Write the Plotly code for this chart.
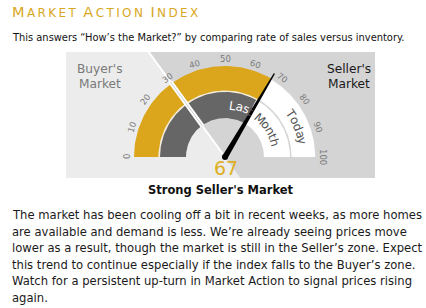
import numpy as np
import plotly.graph_objects as go

# ---------------- data ----------------
title_words = ["MARKET", "ACTION", "INDEX"]
subtitle = "This answers \u201cHow\u2019s the Market?\u201d by comparing rate of sales versus inventory."
gauge_ticks = [0, 10, 20, 30, 40, 50, 60, 70, 80, 90, 100]
today_value = 67
last_month_value = 66
split_value = 30
zone_buyer = ["Buyer's", "Market"]
zone_seller = ["Seller's", "Market"]
band_last_month = "Last Month"
band_today = "Today"
verdict = "Strong Seller's Market"
paragraph_lines = [
    "The market has been cooling off a bit in recent weeks, as more homes",
    "are available and demand is less. We\u2019re already seeing prices move",
    "lower as a result, though the market is still in the Seller\u2019s zone. Expect",
    "this trend to continue especially if the index falls to the Buyer\u2019s zone.",
    "Watch for a persistent up-turn in Market Action to signal prices rising",
    "again.",
]

# ---------------- styling / geometry ----------------
W, H = 426, 308
CX, CY = 225.0, 157.0
PX0, PX1, PY0, PY1 = 66, 375, 52, 178
R_OUT, R_GOLD_IN, R_GRAY_OUT, R_IN = 91, 66.6, 65.0, 39
R_TICK, R_NEEDLE = 98, 97
GOLD = "#dca61c"
DARKGRAY = "#666666"
LIGHT_BG = "#ececec"
DARK_BG = "#d4d4d4"
FONT = "DejaVu Sans"

def ang(v):
    return np.radians(180 - 1.8 * np.asarray(v, dtype=float))

def pt(v, r):
    a = ang(v)
    return CX + r * np.cos(a), CY - r * np.sin(a)

def arc_poly(v0, v1, r0, r1, n=80):
    vs = np.linspace(v0, v1, n)
    xo, yo = pt(vs, r1)
    xi, yi = pt(vs[::-1], r0)
    return np.concatenate([xo, xi, xo[:1]]), np.concatenate([yo, yi, yo[:1]])

fig = go.Figure()

def fill(xs, ys, color):
    fig.add_trace(go.Scatter(x=xs, y=ys, mode="lines", fill="toself",
                             fillcolor=color, line=dict(width=0),
                             hoverinfo="skip"))

# background panels split at the buyer/seller boundary
a_s = ang(split_value)
x_top = CX + (CY - PY0) / np.sin(a_s) * np.cos(a_s)
x_bot = CX - (PY1 - CY) / np.sin(a_s) * np.cos(a_s)
fill([PX0, x_top, x_bot, PX0, PX0], [PY0, PY0, PY1, PY1, PY0], LIGHT_BG)
fill([x_top, PX1, PX1, x_bot, x_top], [PY0, PY0, PY1, PY1, PY0], DARK_BG)

# separator rings
xs, ys = arc_poly(0, today_value, R_GRAY_OUT - 0.3, R_GOLD_IN + 0.3)
fill(xs, ys, "#f4ecd8")
xs, ys = arc_poly(today_value, 100, R_GRAY_OUT - 0.3, R_GOLD_IN + 0.3)
fill(xs, ys, "#d6d6d6")

# today band
xs, ys = arc_poly(0, today_value, R_GOLD_IN, R_OUT)
fill(xs, ys, GOLD)
xs, ys = arc_poly(today_value, 100, R_GOLD_IN, R_OUT - 0.8)
fill(xs, ys, "white")
# last month band
xs, ys = arc_poly(0, last_month_value, R_IN, R_GRAY_OUT)
fill(xs, ys, DARKGRAY)
xs, ys = arc_poly(last_month_value, 100, R_IN, R_GRAY_OUT)
fill(xs, ys, "white")

# white boundary line
fig.add_trace(go.Scatter(x=[x_top, CX], y=[PY0, CY], mode="lines",
                         line=dict(color="white", width=2), hoverinfo="skip"))
bx, by = pt([split_value, split_value], [R_IN - 1, R_OUT + 2])
fig.add_trace(go.Scatter(x=bx, y=by, mode="lines",
                         line=dict(color="white", width=4.5), hoverinfo="skip"))
fig.add_trace(go.Scatter(x=bx, y=by, mode="lines",
                         line=dict(color="#cfcfcf", width=1), hoverinfo="skip"))

# needle
a_n = ang(today_value)
ux, uy = np.cos(a_n), -np.sin(a_n)
px_, py_ = -uy, ux
tipx, tipy = CX + R_NEEDLE * ux, CY + R_NEEDLE * uy
hb, ht = 2.8, 0.7
fill([CX + hb * px_, tipx + ht * px_, tipx - ht * px_, CX - hb * px_, CX + hb * px_],
     [CY + hb * py_, tipy + ht * py_, tipy - ht * py_, CY - hb * py_, CY + hb * py_], "black")
fig.add_trace(go.Scatter(x=[CX], y=[CY], mode="markers",
                         marker=dict(color="black", size=6), hoverinfo="skip"))

ann = []
# tick labels
for v in gauge_ticks:
    x, y = pt(v, R_TICK)
    ann.append(dict(x=float(x), y=float(y), text=str(v), showarrow=False,
                    textangle=1.8 * v - 90, xanchor="center", yanchor="middle",
                    font=dict(family=FONT, size=8.5, color="#7a7a7a")))

# curved band labels
WID = {"L": .557, "a": .613, "s": .521, "t": .392, " ": .318, "M": .863,
       "o": .612, "n": .634, "h": .634, "T": .611, "d": .635, "y": .592}

def curved(text, r, v_center, size, color_fn):
    widths = [WID.get(c, .6) * size for c in text]
    total = sum(widths)
    th_c = float(ang(v_center))
    s = -total / 2
    for c, w in zip(text, widths):
        mid = s + w / 2
        th = th_c - mid / r
        s += w
        if c == " ":
            continue
        v = (180 - np.degrees(th)) / 1.8
        ann.append(dict(x=CX + r * np.cos(th), y=CY - r * np.sin(th), text=c,
                        showarrow=False, textangle=90 - np.degrees(th),
                        xanchor="center", yanchor="middle",
                        font=dict(family=FONT, size=size, color=color_fn(v))))

curved(band_last_month, 52, 73, 12,
       lambda v: "white" if v < last_month_value else "#555555")
curved(band_today, 78.5, 87.5, 12, lambda v: "#555555")

# zone labels
for i, t in enumerate(zone_buyer):
    ann.append(dict(x=100, y=69 + 15 * i, text=t, showarrow=False,
                    font=dict(family=FONT, size=12.2, color="#7a7a7a")))
for i, t in enumerate(zone_seller):
    ann.append(dict(x=349, y=69 + 15 * i, text=t, showarrow=False,
                    font=dict(family=FONT, size=12.2, color="#1a1a1a")))

# value
ann.append(dict(x=226, y=168, text=str(today_value), showarrow=False,
                font=dict(family=FONT, size=19, color="#deaf22")))
# verdict
ann.append(dict(x=220.5, y=190, text=verdict, showarrow=False,
                font=dict(family=FONT, size=11.5, color="#111111", weight="bold")))

# title (small caps emulation)
TS = "\u2009"
parts = []
for wd in title_words:
    rest = TS + TS.join(wd[1:])
    parts.append(wd[0] + '<span style="font-size:12px">' + rest + "</span>")
title_html = (TS + " ").join(parts)
ann.append(dict(x=10, y=12, text=title_html, showarrow=False, xanchor="left",
                yanchor="middle", font=dict(family=FONT, size=14.5, color="#d9a824")))
# subtitle
ann.append(dict(x=10, y=37, text=subtitle, showarrow=False, xanchor="left",
                yanchor="middle", font=dict(family=FONT, size=9.9, color="#111111")))
# paragraph
for i, line in enumerate(paragraph_lines):
    ann.append(dict(x=10, y=215 + 16.5 * i, text=line, showarrow=False,
                    xanchor="left", yanchor="middle",
                    font=dict(family=FONT, size=11.6, color="#1a1a1a")))

fig.update_layout(
    width=W, height=H, margin=dict(l=0, r=0, t=0, b=0),
    paper_bgcolor="white", plot_bgcolor="white", showlegend=False,
    xaxis=dict(range=[0, W], visible=False, fixedrange=True),
    yaxis=dict(range=[H, 0], visible=False, fixedrange=True),
    annotations=ann,
)
fig.write_html("out.html")
